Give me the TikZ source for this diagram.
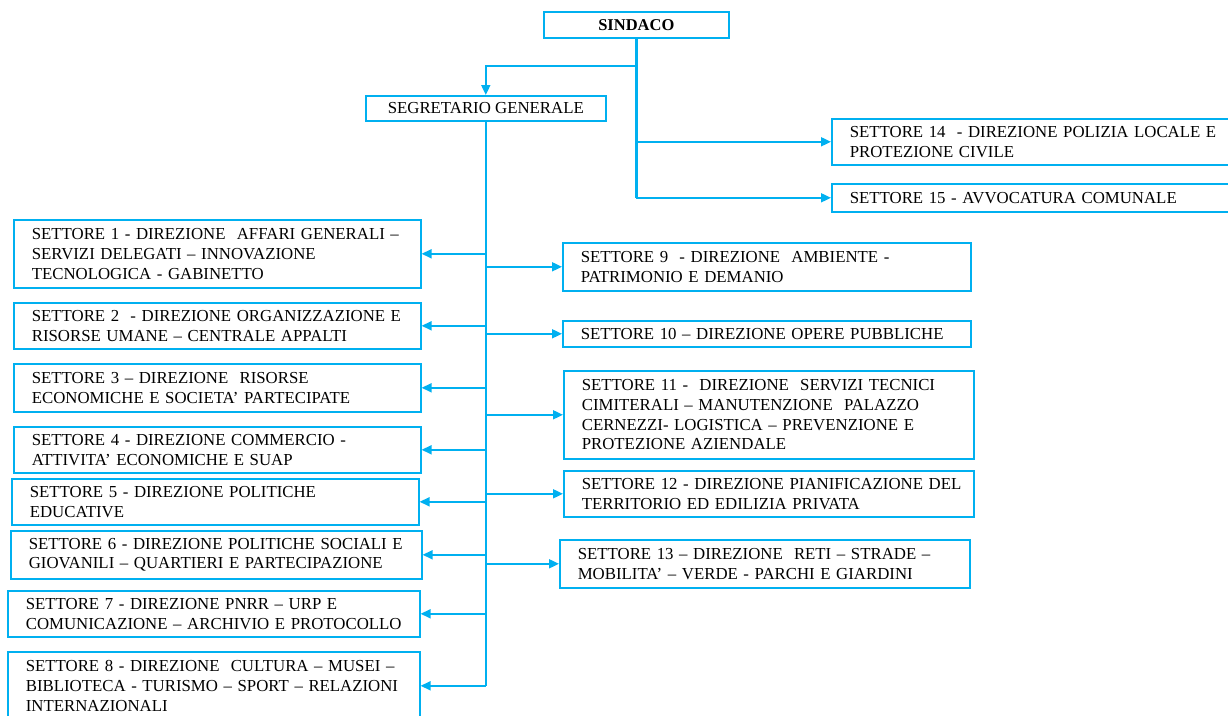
\documentclass[tikz,border=0pt]{standalone}
\usepackage{fontspec}
\setmainfont{Liberation Serif}
\usetikzlibrary{arrows.meta}
\usetikzlibrary{positioning}
\definecolor{sky}{RGB}{0,176,240}
\tikzstyle{sector_box} = [
    rectangle, 
    draw=sky, 
    line width=1.6pt, 
    anchor=north west, 
    align=left, 
    inner xsep=6pt, 
    inner ysep=0pt, 
    text width=395pt, % box 407 wide
    execute at begin node={\leftskip=12pt}, 
    font=\fontsize{16.8}{19.8}\selectfont
]
\tikzstyle{head_box} = [
    rectangle, 
    draw=sky, 
    line width=1.6pt, 
    anchor=north west, 
    align=center, 
    inner sep=0pt, 
    font=\fontsize{16.8}{19.8}\selectfont
]
\tikzstyle{trunk_line} = [
    sky, 
    line width=2.6pt
]
\tikzstyle{branch_arrow} = [
    sky, 
    line width=1.8pt, 
    -{Triangle[length=10pt, width=9pt]}
]

\begin{document}
\begin{tikzpicture}[x=1pt, y=-1pt]
\clip (0,0) rectangle (1228,715);

% top of the chart
\node [head_box, minimum width=185pt, minimum height=26pt, font=\fontsize{16.5}{19}\selectfont\bfseries] (sindaco) at (543,11) {SINDACO};
\node [head_box, minimum width=240pt, minimum height=25pt] (segretario) at (365,95) {SEGRETARIO GENERALE};
\coordinate (fork) at (sindaco.south |- 0,66);

% right of the sindaco
\node [sector_box, text width=398pt, minimum height=46pt] (s14) at (831,118) {SETTORE 14~ - DIREZIONE POLIZIA LOCALE E\\PROTEZIONE CIVILE};
\node [sector_box, text width=398pt, minimum height=28pt] (s15) at (831,183) {SETTORE 15 - AVVOCATURA COMUNALE};

% left column
\node [sector_box, minimum height=68pt] (s1) at (13,219) {SETTORE 1 - DIREZIONE~ AFFARI GENERALI –\\SERVIZI DELEGATI – INNOVAZIONE\\TECNOLOGICA - GABINETTO};
\node [sector_box, minimum height=46pt] (s2) at (13,302) {SETTORE 2~ - DIREZIONE ORGANIZZAZIONE E\\RISORSE UMANE – CENTRALE APPALTI};
\node [sector_box, minimum height=48pt] (s3) at (13,363) {SETTORE 3 – DIREZIONE~ RISORSE\\ECONOMICHE E SOCIETA’ PARTECIPATE};
\node [sector_box, minimum height=46pt] (s4) at (13,426) {SETTORE 4 - DIREZIONE COMMERCIO -\\ATTIVITA’ ECONOMICHE E SUAP};
\node [sector_box, minimum height=46pt] (s5) at (11,478) {SETTORE 5 - DIREZIONE POLITICHE\\EDUCATIVE};
\node [sector_box, text width=399pt, minimum height=48pt] (s6) at (10,530) {SETTORE 6 - DIREZIONE POLITICHE SOCIALI E\\GIOVANILI – QUARTIERI E PARTECIPAZIONE};
\node [sector_box, text width=400pt, minimum height=46pt] (s7) at (7,590) {SETTORE 7 - DIREZIONE PNRR – URP E\\COMUNICAZIONE – ARCHIVIO E PROTOCOLLO};
\node [sector_box, text width=400pt, minimum height=68pt] (s8) at (7,651) {SETTORE 8 - DIREZIONE~ CULTURA – MUSEI –\\BIBLIOTECA - TURISMO – SPORT – RELAZIONI\\INTERNAZIONALI};

% right column
\node [sector_box, text width=396pt, minimum height=48pt] (s9) at (562,242) {SETTORE 9~ - DIREZIONE~ AMBIENTE -\\PATRIMONIO E DEMANIO};
\node [sector_box, text width=396pt, minimum height=26pt] (s10) at (562,320) {SETTORE 10 – DIREZIONE OPERE PUBBLICHE};
\node [sector_box, text width=398pt, minimum height=88pt] (s11) at (563,370) {SETTORE 11 -~ DIREZIONE~ SERVIZI TECNICI\\CIMITERALI – MANUTENZIONE~ PALAZZO\\CERNEZZI- LOGISTICA – PREVENZIONE E\\PROTEZIONE AZIENDALE};
\node [sector_box, text width=398pt, minimum height=46pt] (s12) at (563,470) {SETTORE 12 - DIREZIONE PIANIFICAZIONE DEL\\TERRITORIO ED EDILIZIA PRIVATA};
\node [sector_box, text width=398pt, minimum height=48pt] (s13) at (559,539) {SETTORE 13 – DIREZIONE~ RETI – STRADE –\\MOBILITA’ – VERDE - PARCHI E GIARDINI};

% connectors from the sindaco
\draw [trunk_line] (sindaco.south) -- (sindaco.south |- s15.west);
\draw [branch_arrow] (fork) -| (segretario.north);
\draw [branch_arrow] (sindaco.south |- s14.west) -- (s14.west);
\draw [branch_arrow] (sindaco.south |- s15.west) -- (s15.west);

% connectors from the segretario
\draw [trunk_line] (segretario.south) -- (segretario.south |- s8.east);
\draw [branch_arrow] (segretario.south |- s1.east) -- (s1.east);
\draw [branch_arrow] (segretario.south |- s2.east) -- (s2.east);
\draw [branch_arrow] (segretario.south |- s3.east) -- (s3.east);
\draw [branch_arrow] (segretario.south |- s4.east) -- (s4.east);
\draw [branch_arrow] (segretario.south |- s5.east) -- (s5.east);
\draw [branch_arrow] (segretario.south |- s6.east) -- (s6.east);
\draw [branch_arrow] (segretario.south |- s7.east) -- (s7.east);
\draw [branch_arrow] (segretario.south |- s8.east) -- (s8.east);
\draw [branch_arrow] (segretario.south |- s9.west) -- (s9.west);
\draw [branch_arrow] (segretario.south |- s10.west) -- (s10.west);
\draw [branch_arrow] (segretario.south |- s11.west) -- (s11.west);
\draw [branch_arrow] (segretario.south |- s12.west) -- (s12.west);
\draw [branch_arrow] (segretario.south |- s13.west) -- (s13.west);
\end{tikzpicture}
\end{document}
